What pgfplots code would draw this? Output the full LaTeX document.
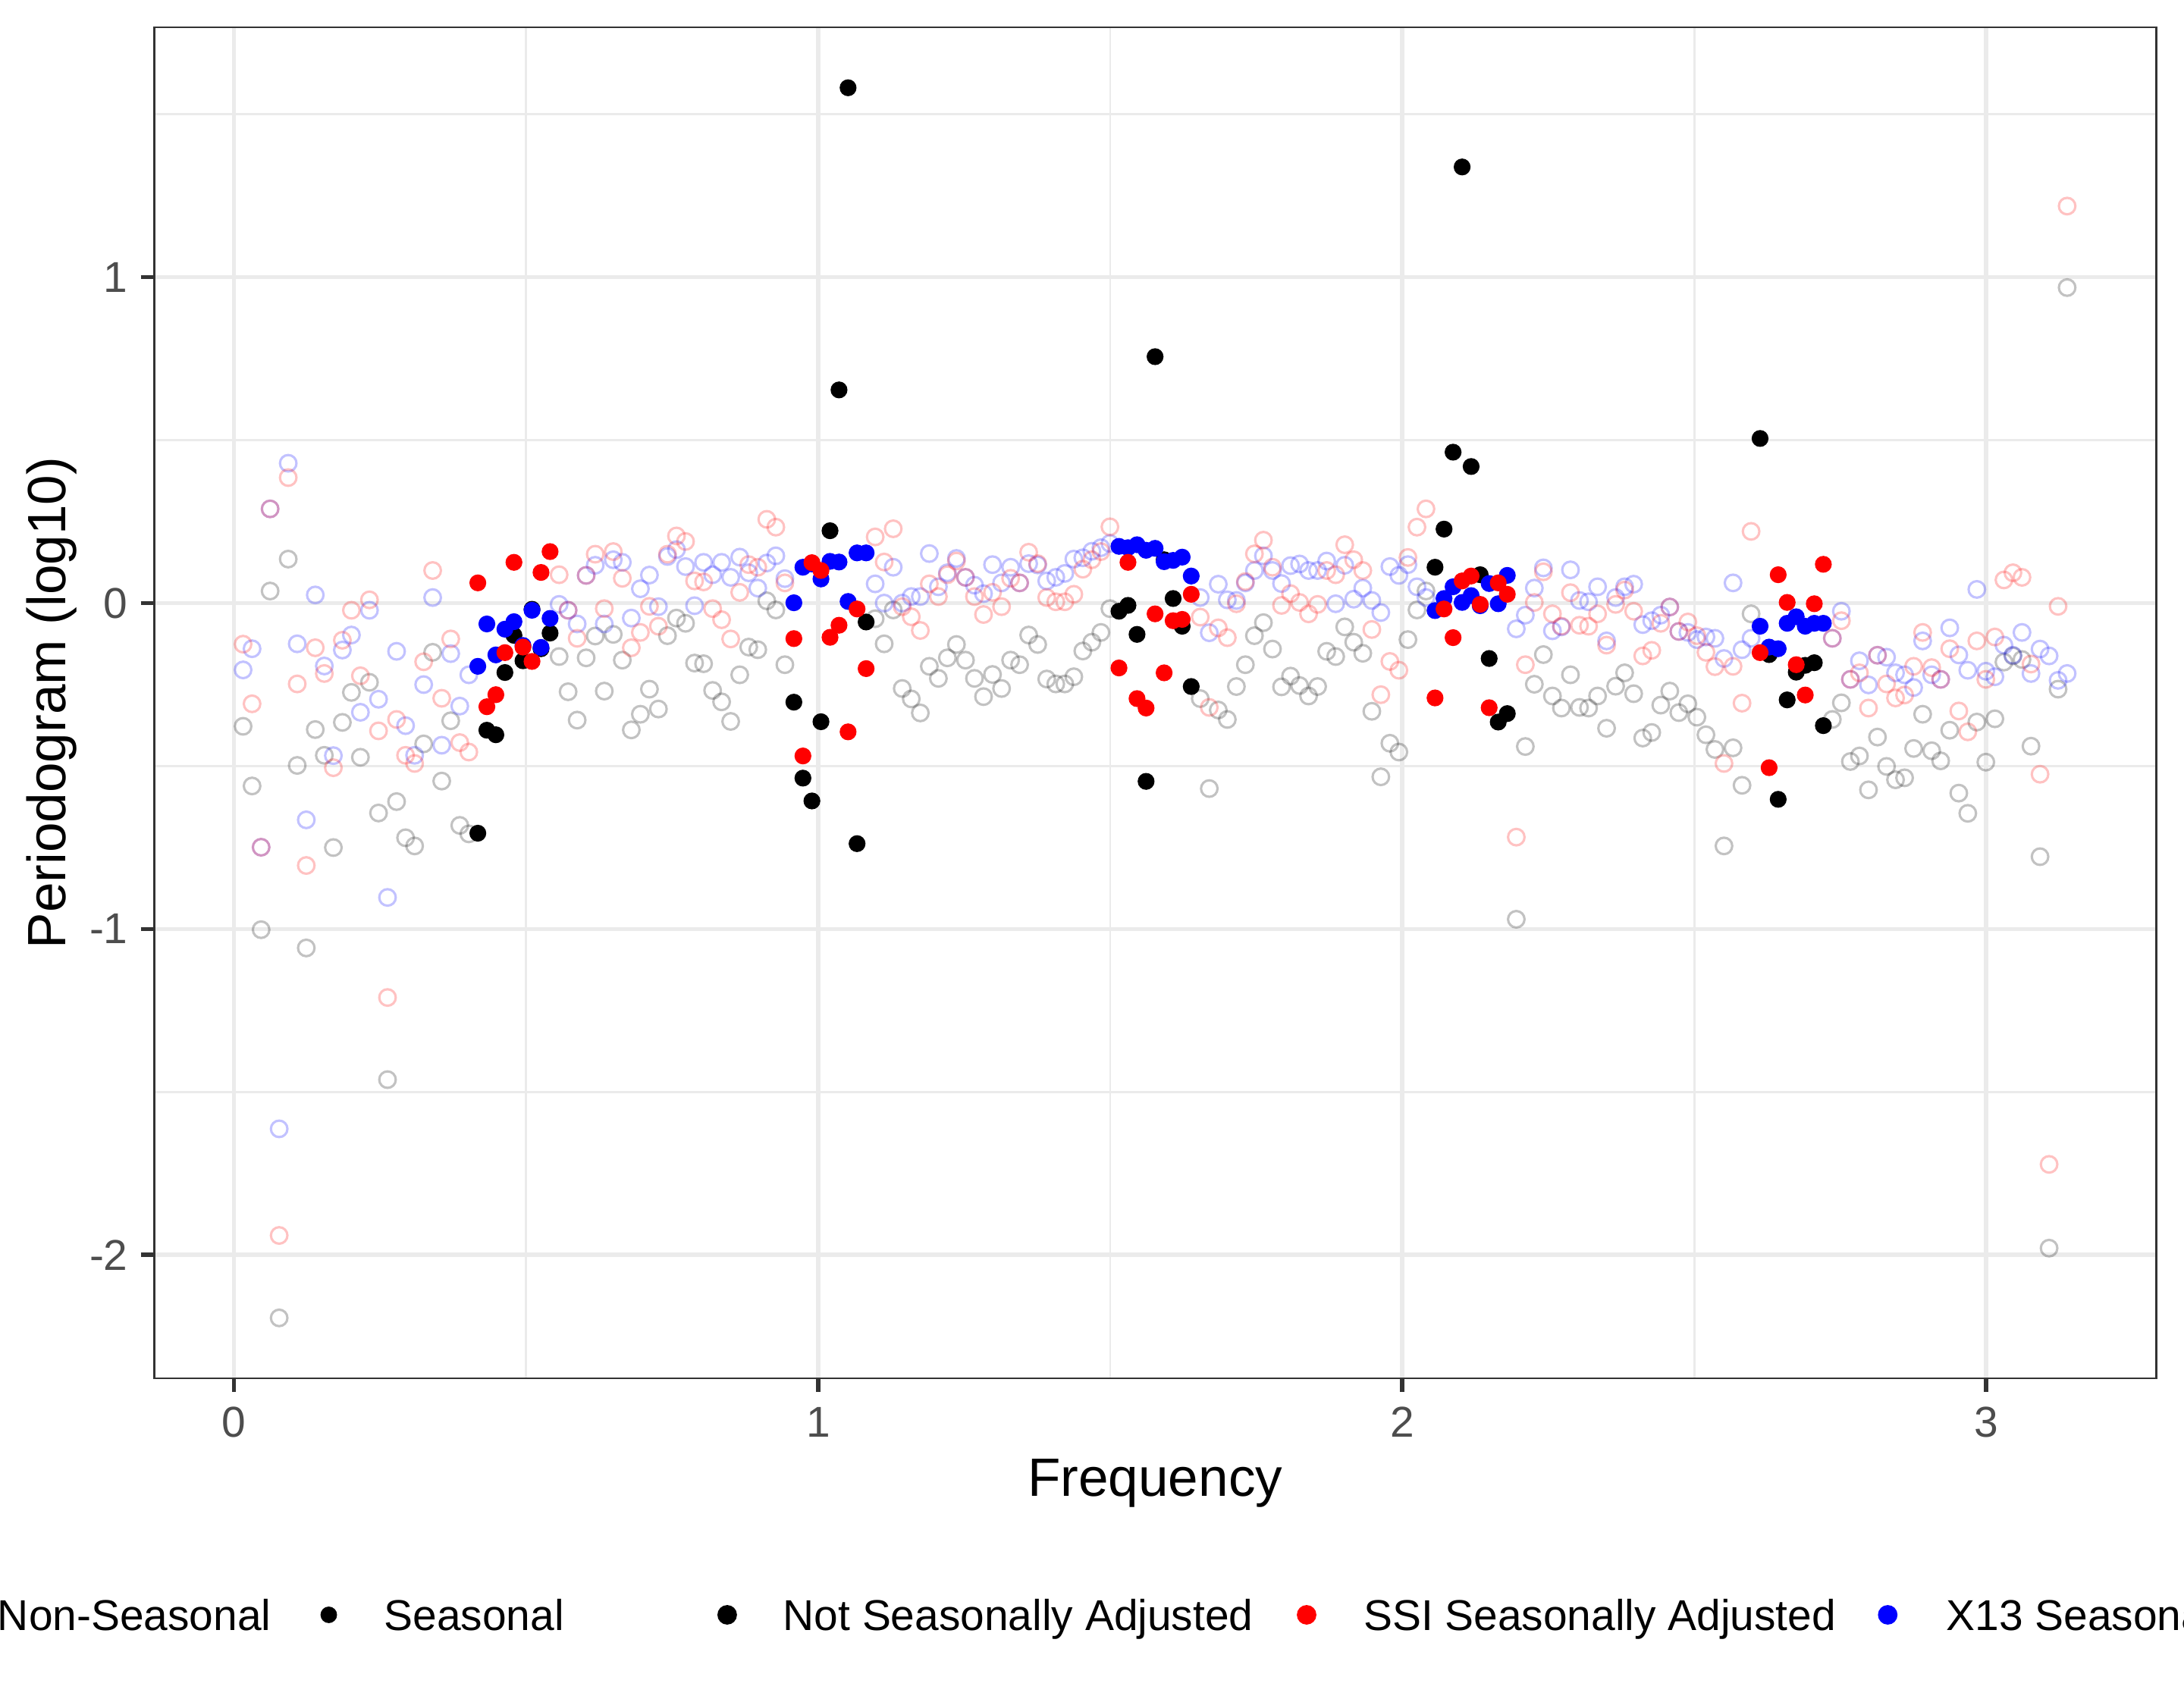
\documentclass[border=0pt]{standalone}
\usepackage{fontspec}
\setmainfont{Liberation Sans}
\usepackage{pgfplots}
\usepackage{pgfplotstable}
\pgfplotsset{compat=1.18}
\definecolor{gridc}{HTML}{EBEBEB}
\definecolor{tickc}{HTML}{333333}
\definecolor{labc}{HTML}{4D4D4D}

% Non-seasonal frequencies (hollow points)
\pgfplotstableread{
x nsa ssi xt
0.0155 -0.378 -0.126 -0.205
0.0309 -0.561 -0.309 -0.140
0.0464 -1.002 -0.749 -0.749
0.0618 0.037 0.289 0.289
0.0773 -2.193 -1.940 -1.613
0.0928 0.135 0.385 0.429
0.1082 -0.498 -0.248 -0.125
0.1237 -1.058 -0.805 -0.665
0.1391 -0.388 -0.137 0.025
0.1546 -0.467 -0.216 -0.193
0.1701 -0.750 -0.505 -0.468
0.1855 -0.366 -0.114 -0.144
0.2010 -0.274 -0.022 -0.098
0.2164 -0.473 -0.223 -0.335
0.2319 -0.243 0.010 -0.022
0.2474 -0.644 -0.392 -0.295
0.2628 -1.462 -1.210 -0.903
0.2783 -0.609 -0.357 -0.148
0.2937 -0.720 -0.467 -0.376
0.3092 -0.745 -0.492 -0.467
0.3247 -0.432 -0.180 -0.250
0.3401 -0.151 0.100 0.017
0.3556 -0.546 -0.292 -0.436
0.3710 -0.361 -0.110 -0.155
0.3865 -0.682 -0.428 -0.316
0.4020 -0.708 -0.457 -0.220
0.5566 -0.164 0.087 -0.004
0.5720 -0.272 -0.022 -0.022
0.5875 -0.359 -0.108 -0.064
0.6029 -0.168 0.085 0.085
0.6184 -0.101 0.150 0.116
0.6339 -0.270 -0.017 -0.064
0.6493 -0.096 0.158 0.133
0.6648 -0.175 0.076 0.125
0.6802 -0.389 -0.137 -0.046
0.6957 -0.341 -0.090 0.044
0.7112 -0.264 -0.010 0.086
0.7266 -0.325 -0.071 -0.011
0.7421 -0.100 0.150 0.143
0.7575 -0.046 0.206 0.164
0.7730 -0.062 0.189 0.112
0.7885 -0.184 0.068 -0.008
0.8039 -0.186 0.065 0.125
0.8194 -0.268 -0.017 0.087
0.8348 -0.303 -0.051 0.125
0.8503 -0.363 -0.110 0.079
0.8658 -0.220 0.033 0.141
0.8812 -0.135 0.118 0.093
0.8967 -0.143 0.110 0.046
0.9121 0.007 0.257 0.123
0.9276 -0.021 0.233 0.145
0.9431 -0.189 0.062 0.075
1.0977 -0.048 0.203 0.059
1.1131 -0.125 0.126 0.000
1.1286 -0.021 0.228 0.110
1.1440 -0.262 -0.011 0.000
1.1595 -0.294 -0.042 0.020
1.1750 -0.337 -0.084 0.020
1.1904 -0.194 0.059 0.152
1.2059 -0.231 0.020 0.050
1.2213 -0.168 0.087 0.093
1.2368 -0.127 0.129 0.137
1.2523 -0.175 0.079 0.079
1.2677 -0.231 0.020 0.055
1.2832 -0.287 -0.035 0.029
1.2986 -0.219 0.033 0.118
1.3141 -0.262 -0.011 0.062
1.3296 -0.175 0.076 0.110
1.3450 -0.189 0.062 0.062
1.3605 -0.098 0.156 0.121
1.3759 -0.127 0.121 0.117
1.3914 -0.233 0.017 0.068
1.4069 -0.248 0.004 0.079
1.4223 -0.248 0.004 0.091
1.4378 -0.226 0.027 0.135
1.4532 -0.147 0.104 0.139
1.4687 -0.120 0.133 0.159
1.4842 -0.090 0.158 0.170
1.4996 -0.017 0.234 0.183
1.6542 -0.293 -0.043 0.017
1.6697 -0.569 -0.320 -0.091
1.6851 -0.328 -0.076 0.058
1.7006 -0.357 -0.106 0.010
1.7161 -0.256 -0.002 0.008
1.7315 -0.189 0.066 0.062
1.7470 -0.100 0.151 0.100
1.7624 -0.060 0.193 0.145
1.7779 -0.141 0.110 0.100
1.7934 -0.257 -0.007 0.060
1.8088 -0.224 0.029 0.115
1.8243 -0.253 0.002 0.120
1.8397 -0.285 -0.033 0.100
1.8552 -0.256 -0.004 0.100
1.8707 -0.148 0.100 0.129
1.8861 -0.164 0.087 -0.002
1.9016 -0.073 0.179 0.116
1.9170 -0.120 0.133 0.012
1.9325 -0.154 0.100 0.046
1.9480 -0.332 -0.081 0.008
1.9634 -0.533 -0.281 -0.029
1.9789 -0.430 -0.179 0.112
1.9943 -0.457 -0.206 0.085
2.0098 -0.112 0.140 0.118
2.0253 -0.021 0.233 0.050
2.0407 0.037 0.289 0.017
2.1953 -0.970 -0.718 -0.079
2.2108 -0.440 -0.189 -0.037
2.2262 -0.249 0.002 0.046
2.2417 -0.158 0.096 0.108
2.2572 -0.285 -0.033 -0.085
2.2726 -0.322 -0.071 -0.073
2.2881 -0.220 0.032 0.102
2.3035 -0.320 -0.068 0.008
2.3190 -0.322 -0.071 0.004
2.3345 -0.285 -0.033 0.050
2.3499 -0.384 -0.129 -0.116
2.3654 -0.255 -0.004 0.017
2.3808 -0.214 0.040 0.050
2.3963 -0.278 -0.025 0.058
2.4118 -0.414 -0.162 -0.066
2.4272 -0.397 -0.145 -0.054
2.4427 -0.313 -0.062 -0.037
2.4581 -0.270 -0.012 -0.012
2.4736 -0.336 -0.087 -0.087
2.4891 -0.309 -0.058 -0.090
2.5045 -0.350 -0.100 -0.112
2.5200 -0.404 -0.151 -0.104
2.5354 -0.449 -0.195 -0.108
2.5509 -0.745 -0.492 -0.170
2.5664 -0.444 -0.194 0.062
2.5818 -0.559 -0.307 -0.143
2.5973 -0.033 0.220 -0.108
2.7364 -0.357 -0.108 -0.108
2.7519 -0.306 -0.054 -0.025
2.7673 -0.486 -0.234 -0.234
2.7828 -0.469 -0.214 -0.177
2.7983 -0.573 -0.322 -0.251
2.8137 -0.411 -0.160 -0.160
2.8292 -0.501 -0.248 -0.166
2.8446 -0.542 -0.291 -0.214
2.8601 -0.536 -0.282 -0.220
2.8756 -0.446 -0.194 -0.259
2.8910 -0.341 -0.090 -0.116
2.9065 -0.453 -0.198 -0.220
2.9219 -0.484 -0.234 -0.234
2.9374 -0.390 -0.140 -0.076
2.9529 -0.583 -0.331 -0.159
2.9683 -0.645 -0.395 -0.206
2.9838 -0.365 -0.116 0.042
2.9992 -0.488 -0.234 -0.209
3.0147 -0.355 -0.104 -0.226
3.0302 -0.181 0.071 -0.129
3.0456 -0.162 0.093 -0.160
3.0611 -0.173 0.079 -0.090
3.0765 -0.439 -0.187 -0.216
3.0920 -0.778 -0.525 -0.141
3.1075 -1.979 -1.722 -0.162
3.1229 -0.264 -0.010 -0.237
3.1384 0.968 1.218 -0.216
}\hollowtab

% Seasonal frequencies (filled points)
\pgfplotstableread{
x nsa ssi xt
0.4174 -0.706 0.062 -0.194
0.4329 -0.390 -0.318 -0.064
0.4483 -0.404 -0.281 -0.159
0.4638 -0.213 -0.152 -0.080
0.4793 -0.099 0.125 -0.057
0.4947 -0.177 -0.135 -0.130
0.5102 -0.019 -0.179 -0.022
0.5256 -0.140 0.094 -0.136
0.5411 -0.092 0.158 -0.047
0.9585 -0.304 -0.109 0.001
0.9740 -0.537 -0.469 0.110
0.9894 -0.607 0.124 0.120
1.0049 -0.364 0.100 0.074
1.0204 0.222 -0.105 0.128
1.0358 0.654 -0.068 0.126
1.0513 1.581 -0.395 0.005
1.0667 -0.738 -0.018 0.154
1.0822 -0.058 -0.201 0.154
1.5151 -0.025 -0.199 0.174
1.5305 -0.007 0.125 0.170
1.5460 -0.096 -0.293 0.179
1.5615 -0.547 -0.322 0.162
1.5769 0.756 -0.033 0.168
1.5924 0.133 -0.214 0.127
1.6078 0.014 -0.054 0.131
1.6233 -0.071 -0.050 0.141
1.6388 -0.256 0.027 0.083
2.0562 0.110 -0.291 -0.023
2.0716 0.227 -0.018 0.014
2.0871 0.463 -0.106 0.050
2.1026 1.338 0.068 0.002
2.1180 0.419 0.083 0.023
2.1335 0.087 -0.004 -0.008
2.1489 -0.170 -0.321 0.060
2.1644 -0.365 0.062 -0.002
2.1799 -0.339 0.027 0.085
2.6127 0.505 -0.152 -0.071
2.6282 -0.158 -0.505 -0.135
2.6437 -0.602 0.087 -0.140
2.6591 -0.297 0.002 -0.062
2.6746 -0.212 -0.189 -0.042
2.6900 -0.191 -0.282 -0.071
2.7055 -0.183 -0.002 -0.062
2.7210 -0.376 0.119 -0.062
}\filledtab

\pgfplotsset{
  hollowpt/.style={only marks, mark=o, mark size=2.45pt,
    mark options={line width=0.7pt, opacity=0.24}},
  filledpt/.style={only marks, mark=*, mark size=2.3pt,
    mark options={line width=0.4pt}},
}

\begin{document}
\begin{tikzpicture}
\begin{axis}[
  name=ax, at={(0pt,0pt)}, anchor=south west,
  scale only axis, width=593.9pt, height=400.9pt,
  xmin=-0.1367, xmax=3.2906, ymin=-2.3782, ymax=1.7665,
  xtick={0,1,2,3}, xticklabels={0,1,2,3},
  ytick={-2,-1,0,1}, yticklabels={-2,-1,0,1},
  minor xtick={0.5,1.5,2.5}, minor ytick={-1.5,-0.5,0.5,1.5},
  grid=both,
  major grid style={line width=1.3pt, color=gridc},
  minor grid style={line width=0.65pt, color=gridc},
  tick pos=left, tick align=outside,
  major tick length=4pt, minor tick length=0pt,
  major tick style={line width=1.3pt, color=tickc},
  axis line style={line width=0.65pt, color=tickc},
  tick label style={font=\fontsize{12.8}{15.4}\selectfont, text=labc, inner sep=0pt},
  xticklabel style={anchor=north},
  yticklabel style={anchor=east},
  xticklabel shift=4.4pt, yticklabel shift=3.6pt,
]
\addplot[hollowpt, color=black] table[x=x, y=nsa] {\hollowtab};
\addplot[filledpt, color=black] table[x=x, y=nsa] {\filledtab};
\addplot[hollowpt, color=blue] table[x=x, y=xt] {\hollowtab};
\addplot[filledpt, color=blue] table[x=x, y=xt] {\filledtab};
\addplot[hollowpt, color=red] table[x=x, y=ssi] {\hollowtab};
\addplot[filledpt, color=red] table[x=x, y=ssi] {\filledtab};
\end{axis}

% axis titles
\path (ax.south) ++(0pt,-34.9pt) node[anchor=base, inner sep=0pt,
  font=\fontsize{16}{19.2}\selectfont] {Frequency};
\path (ax.west) ++(-26.25pt,0pt) node[rotate=90, anchor=base, inner sep=0pt,
  font=\fontsize{16}{19.2}\selectfont] {Periodogram (log10)};

% legend (drawn in a hidden axis measured in pt from the panel corner)
\begin{axis}[
  at={(0pt,0pt)}, anchor=south west,
  scale only axis, width=593.9pt, height=400.9pt,
  xmin=0, xmax=593.9, ymin=0, ymax=400.9,
  hide axis, clip=false,
]
\addplot[only marks, mark=o, mark size=2.4pt, black, mark options={line width=0.6pt}] coordinates {(-63.9,-70.2)};
\addplot[only marks, mark=*, mark size=2.25pt, black] coordinates {(51.8,-70.2)};
\addplot[only marks, mark=*, mark size=2.7pt, black] coordinates {(170.0,-70.2)};
\addplot[only marks, mark=*, mark size=2.7pt, red] coordinates {(341.9,-70.2)};
\addplot[only marks, mark=*, mark size=2.7pt, blue] coordinates {(514.3,-70.2)};
\node[anchor=base east, inner sep=0pt, font=\fontsize{12.8}{15.4}\selectfont] at (axis cs:34.9,-74.8) {Non-Seasonal};
\node[anchor=base west, inner sep=0pt, font=\fontsize{12.8}{15.4}\selectfont] at (axis cs:68.0,-74.8) {Seasonal};
\node[anchor=base west, inner sep=0pt, font=\fontsize{12.8}{15.4}\selectfont] at (axis cs:186.4,-74.8) {Not Seasonally Adjusted};
\node[anchor=base west, inner sep=0pt, font=\fontsize{12.8}{15.4}\selectfont] at (axis cs:358.6,-74.8) {SSI Seasonally Adjusted};
\node[anchor=base west, inner sep=0pt, font=\fontsize{12.8}{15.4}\selectfont] at (axis cs:531.5,-74.8) {X13 Seasonally Adjusted};
\end{axis}

\pgfresetboundingbox
\path[use as bounding box] (-45.74pt,-95.0pt) rectangle (602.2pt,409.0pt);
\end{tikzpicture}
\end{document}
